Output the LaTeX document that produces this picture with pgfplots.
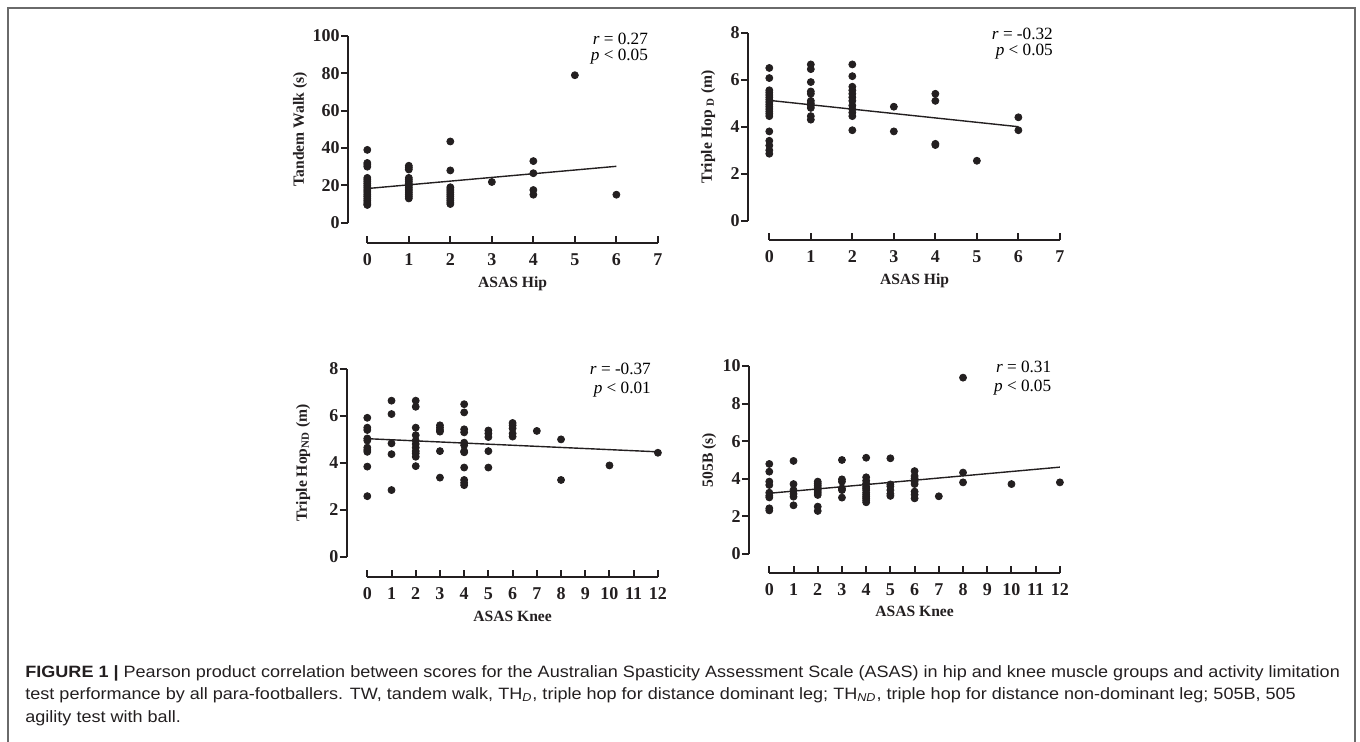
\documentclass[border=0pt]{standalone}
\usepackage{fontspec}
\setmainfont{Liberation Serif}
\newfontfamily\capfont[FakeStretch=1.1]{Liberation Sans}
\usepackage{pgfplots}
\pgfplotsset{compat=1.18}
\definecolor{ink}{HTML}{231F20}
\definecolor{framegray}{HTML}{6A6A6A}

\pgfplotsset{
  panel/.style={
    scale only axis, width=145.3pt, clip=false,
    axis lines=left, axis line style={-, line width=1pt, ink},
    xmin=0, ymin=0,
    xtick align=inside, ytick align=outside,
    major tick length=3.5pt,
    tick style={line width=1pt, ink},
    tick label style={font=\fontsize{9}{10}\selectfont\bfseries, text=ink},
    xticklabel style={anchor=base, yshift=-11.2pt},
    yticklabel style={anchor=east, inner sep=0pt, xshift=-0.5pt},
    /pgf/number format/assume math mode=true,
    label style={font=\fontsize{7.8}{9}\selectfont\bfseries, text=ink},
  },
  xlab/.style={xlabel style={at={(axis description cs:0.5,0)}, anchor=base, yshift=-#1}},
  ylab/.style={ylabel style={at={(axis description cs:0,0.5)}, anchor=center, yshift=#1}},
  dots/.style={only marks, mark=*, mark size=1.75pt, ink},
  fitline/.style={ink, line width=0.7pt, no marks},
}
\newcommand{\stat}[1]{\fontsize{8.6}{9}\selectfont #1}

\begin{document}
\begin{tikzpicture}
\useasboundingbox (0,0) rectangle (680pt,-371pt);
\draw[framegray, line width=0.8pt] (4pt,-375pt) -- (4pt,-4pt) -- (677.5pt,-4pt) -- (677.5pt,-375pt);

% tandem walk vs hip
\begin{axis}[panel, at={(183.65pt,-111.35pt)}, anchor=south west,
  height=93.35pt, xmax=7, ymax=100,
  xtick={0,...,7}, ytick={0,20,...,100},
  axis x line shift=10pt, axis y line shift=9.65pt,
  xlab=32.6pt, ylab=33.6pt,
  xlabel={ASAS Hip}, ylabel={Tandem Walk (s)}]
\addplot[dots] coordinates {
(0,39) (0,32) (0,31) (0,30) (0,24) (0,23) (0,22) (0,21) (0,20) (0,19) (0,18) (0,17)
(0,16) (0,15) (0,14) (0,13) (0,12) (0,11) (0,10) (0,9.5)
(1,30.5) (1,29.5) (1,28.5) (1,24) (1,23) (1,22) (1,21) (1,20) (1,19) (1,18) (1,17)
(1,16) (1,15) (1,14) (1,13)
(2,43.5) (2,28) (2,19) (2,18) (2,17) (2,16) (2,15) (2,14) (2,13) (2,12) (2,11) (2,10)
(3,21.8) (4,33) (4,26.5) (4,17.5) (4,15) (5,79) (6,15)};
\addplot[fitline] coordinates {(0,18.3) (6,30.2)};
\node[anchor=base east] at (axis cs:6.93,95.7) {\stat{\textit{r} = 0.27}};
\node[anchor=base east] at (axis cs:6.93,86.8) {\stat{\textit{p} < 0.05}};
\end{axis}

% triple hop D vs hip
\begin{axis}[panel, at={(384.65pt,-110.35pt)}, anchor=south west,
  height=94pt, xmax=7, ymax=8,
  xtick={0,...,7}, ytick={0,2,...,8},
  axis x line shift=9.65pt, axis y line shift=10.65pt,
  xlab=32.1pt, ylab=30.6pt,
  xlabel={ASAS Hip}, ylabel={Triple Hop \textsubscript{D} (m)}]
\addplot[dots] coordinates {
(0,6.5) (0,6.07) (0,5.55) (0,5.45) (0,5.35) (0,5.25) (0,5.15) (0,5.05) (0,4.95) (0,4.85)
(0,4.75) (0,4.65) (0,4.55) (0,4.45) (0,3.8) (0,3.4) (0,3.2) (0,3.0) (0,2.85)
(1,6.65) (1,6.45) (1,5.9) (1,5.5) (1,5.4) (1,5.1) (1,5.0) (1,4.9) (1,4.8) (1,4.45) (1,4.3)
(2,6.65) (2,6.15) (2,5.7) (2,5.55) (2,5.4) (2,5.25) (2,5.1) (2,4.9) (2,4.75) (2,4.6)
(2,4.45) (2,3.85)
(3,4.85) (3,3.8) (4,5.4) (4,5.1) (4,3.27) (4,3.22) (5,2.55) (6,4.4) (6,3.85)};
\addplot[fitline] coordinates {(0,5.12) (6,4.0)};
\node[anchor=base east] at (axis cs:7,7.73) {\stat{\textit{r} = -0.32}};
\node[anchor=base east] at (axis cs:7,7.05) {\stat{\textit{p} < 0.05}};
\end{axis}

% triple hop ND vs knee
\begin{axis}[panel, at={(183.65pt,-278.35pt)}, anchor=south west,
  height=93.85pt, xmax=12, ymax=8,
  xtick={0,...,12}, ytick={0,2,...,8},
  axis x line shift=10pt, axis y line shift=10.3pt,
  xlab=32.6pt, ylab=32.1pt,
  xlabel={ASAS Knee}, ylabel={Triple Hop\textsubscript{ND} (m)}]
\addplot[dots] coordinates {
(0,5.92) (0,5.5) (0,5.4) (0,5.04) (0,4.95) (0,4.65) (0,4.55) (0,4.47) (0,3.84) (0,2.58)
(1,6.65) (1,6.08) (1,4.83) (1,4.37) (1,2.84)
(2,6.65) (2,6.39) (2,5.5) (2,5.18) (2,4.95) (2,4.8) (2,4.65) (2,4.5) (2,4.4) (2,4.26) (2,3.86)
(3,5.6) (3,5.5) (3,5.4) (3,5.33) (3,4.5) (3,3.37)
(4,6.5) (4,6.15) (4,5.43) (4,5.3) (4,4.86) (4,4.75) (4,4.5) (4,4.45) (4,3.8) (4,3.27)
(4,3.15) (4,3.05)
(5,5.38) (5,5.25) (5,5.1) (5,4.5) (5,3.8)
(6,5.7) (6,5.6) (6,5.47) (6,5.25) (6,5.12)
(7,5.36) (8,5.0) (8,3.27) (10,3.89) (12,4.43)};
\addplot[fitline] coordinates {(0,5.03) (12,4.47)};
\node[anchor=base east] at (axis cs:12,7.75) {\stat{\textit{r} = -0.37}};
\node[anchor=base east] at (axis cs:12,6.97) {\stat{\textit{p} < 0.01}};
\end{axis}

% 505B vs knee
\begin{axis}[panel, at={(384.65pt,-277pt)}, anchor=south west,
  height=94pt, xmax=12, ymax=10,
  xtick={0,...,12}, ytick={0,2,...,10},
  axis x line shift=9.35pt, axis y line shift=10.15pt,
  xlab=31pt, ylab=30.1pt,
  xlabel={ASAS Knee}, ylabel={505B (s)}]
\addplot[dots] coordinates {
(0,4.79) (0,4.38) (0,3.85) (0,3.67) (0,3.26) (0,3.1) (0,3.01) (0,2.43) (0,2.32)
(1,4.95) (1,3.72) (1,3.4) (1,3.2) (1,3.05) (1,2.59)
(2,3.85) (2,3.75) (2,3.65) (2,3.55) (2,3.45) (2,3.35) (2,3.25) (2,3.14) (2,2.52) (2,2.29)
(3,5.0) (3,3.97) (3,3.85) (3,3.49) (3,3.4) (3,3.0)
(4,5.12) (4,4.08) (4,3.9) (4,3.75) (4,3.58) (4,3.5) (4,3.4) (4,3.26) (4,3.15) (4,3.05)
(4,2.96) (4,2.86) (4,2.75)
(5,5.09) (5,3.7) (5,3.6) (5,3.4) (5,3.2) (5,3.09)
(6,4.41) (6,4.15) (6,4.02) (6,3.85) (6,3.72) (6,3.32) (6,3.15) (6,2.96)
(7,3.07) (8,9.38) (8,4.33) (8,3.81) (10,3.72) (12,3.81)};
\addplot[fitline] coordinates {(0,3.23) (12,4.62)};
\node[anchor=base east] at (axis cs:11.93,9.63) {\stat{\textit{r} = 0.31}};
\node[anchor=base east] at (axis cs:11.93,8.62) {\stat{\textit{p} < 0.05}};
\end{axis}

\node[anchor=base west, align=left, inner sep=0pt, text=ink,
  font=\capfont\fontsize{8.2}{11.25}\selectfont] at (12.5pt,-361pt)
  {{\bfseries FIGURE 1 |} Pearson product correlation between scores for the Australian Spasticity Assessment Scale (ASAS) in hip and knee muscle groups and activity limitation\\
   test performance by all para-footballers. TW, tandem walk, TH\textsubscript{\itshape D}, triple hop for distance dominant leg; TH\textsubscript{\itshape ND}, triple hop for distance non-dominant leg; 505B, 505\\
   agility test with ball.};
\end{tikzpicture}
\end{document}
